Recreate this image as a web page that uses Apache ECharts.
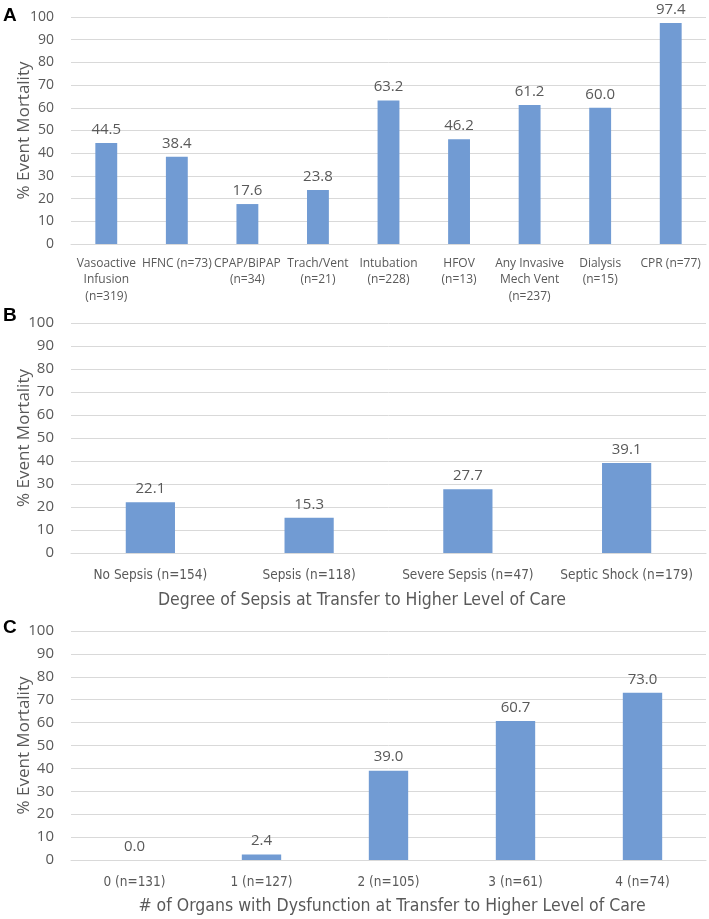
<!DOCTYPE html>
<html>
<head>
<meta charset="utf-8">
<script src="https://cdn.jsdelivr.net/npm/echarts@6/dist/echarts.min.js"></script>
<style>html,body{margin:0;padding:0;background:#fff;}#c{width:709px;height:919px;}</style>
</head>
<body>
<div id="c"></div>
<script>
const catsA = ['Vasoactive\nInfusion\n(n=319)', 'HFNC (n=73)', 'CPAP/BiPAP\n(n=34)', 'Trach/Vent\n(n=21)', 'Intubation\n(n=228)', 'HFOV\n(n=13)', 'Any Invasive\nMech Vent\n(n=237)', 'Dialysis\n(n=15)', 'CPR (n=77)'];
const valsA = [44.5, 38.4, 17.6, 23.8, 63.2, 46.2, 61.2, 60.0, 97.4];
const catsB = ['No Sepsis (n=154)', 'Sepsis (n=118)', 'Severe Sepsis (n=47)', 'Septic Shock (n=179)'];
const valsB = [22.1, 15.3, 27.7, 39.1];
const catsC = ['0 (n=131)', '1 (n=127)', '2 (n=105)', '3 (n=61)', '4 (n=74)'];
const valsC = [0.0, 2.4, 39.0, 60.7, 73.0];
const nameB = 'Degree of Sepsis at Transfer to Higher Level of Care';
const nameC = '# of Organs with Dysfunction at Transfer to Higher Level of Care';
const yName = '% Event Mortality';

const REG = '"Open Sans", sans-serif';
const NAR = '"DejaVu Sans Condensed", sans-serif';
const TXT = '#595959';
const GRID = '#D9D9D9';
const BAR = '#719BD3';

const grids = [
  {left: 71, width: 635, top: 17, height: 227},
  {left: 71, width: 635, top: 323, height: 230},
  {left: 71, width: 635, top: 631, height: 229}
];
const cats = [catsA, catsB, catsC];
const vals = [valsA, valsB, valsC];
const catFont = [{fontFamily: REG, fontSize: 12, lineHeight: 16.5, margin: 11},
                 {fontFamily: NAR, fontSize: 13.5, lineHeight: 18, margin: 13},
                 {fontFamily: NAR, fontSize: 13.5, lineHeight: 18, margin: 13}];
const tickFont = [{fontFamily: REG, fontSize: 14}, {fontFamily: REG, fontSize: 15}, {fontFamily: REG, fontSize: 15}];
const valFont = [{fontFamily: REG, fontSize: 15}, {fontFamily: REG, fontSize: 15}, {fontFamily: REG, fontSize: 15}];

const chart = echarts.init(document.getElementById('c'), null, {renderer: 'canvas'});
chart.setOption({
  animation: false,
  backgroundColor: '#fff',
  grid: grids,
  xAxis: cats.map((c, i) => ({
    type: 'category', gridIndex: i, data: c,
    axisLine: {lineStyle: {color: GRID, width: 1}},
    axisTick: {show: false},
    axisLabel: Object.assign({color: TXT, interval: 0}, catFont[i])
  })),
  yAxis: cats.map((c, i) => ({
    type: 'value', gridIndex: i, min: 0, max: 100, interval: 10,
    name: yName, nameLocation: 'middle', nameGap: 38, nameMoveOverlap: false,
    nameTextStyle: {fontFamily: REG, fontSize: 17, color: TXT},
    axisLine: {show: false}, axisTick: {show: false},
    splitLine: {lineStyle: {color: GRID, width: 1}},
    axisLabel: Object.assign({color: TXT, margin: 17}, tickFont[i])
  })),
  series: vals.map((v, i) => ({
    type: 'bar', xAxisIndex: i, yAxisIndex: i, data: v,
    barWidth: '31%',
    itemStyle: {color: BAR},
    label: Object.assign({show: true, position: 'top', distance: 6, color: TXT,
      formatter: p => p.value.toFixed(1)}, valFont[i])
  })),
  graphic: [
    {type: 'text', x: 3, y: 6, style: {text: 'A', font: 'bold 19px "Liberation Sans", sans-serif', fill: '#000'}},
    {type: 'text', x: 3, y: 306, style: {text: 'B', font: 'bold 19px "Liberation Sans", sans-serif', fill: '#000'}},
    {type: 'text', x: 3, y: 618, style: {text: 'C', font: 'bold 19px "Liberation Sans", sans-serif', fill: '#000'}},
    {type: 'text', x: 362, y: 600, style: {text: nameB, font: '17.5px ' + NAR, fill: TXT, align: 'center', verticalAlign: 'middle'}},
    {type: 'text', x: 392, y: 906, style: {text: nameC, font: '17.5px ' + NAR, fill: TXT, align: 'center', verticalAlign: 'middle'}}
  ]
});
</script>
</body>
</html>
